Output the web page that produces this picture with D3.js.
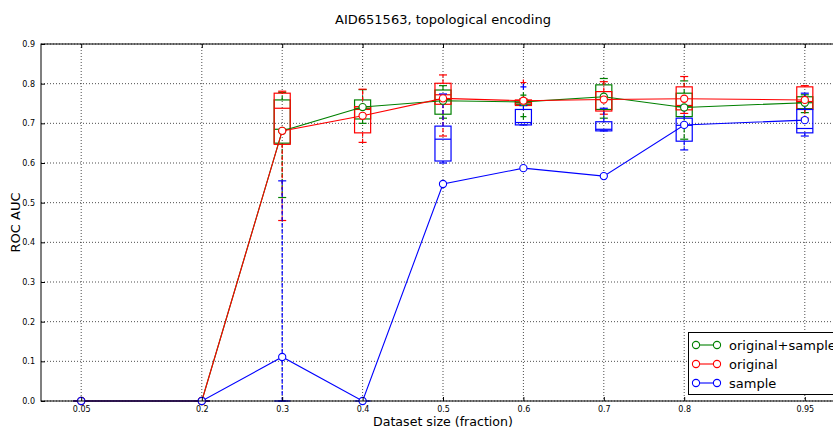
<!DOCTYPE html>
<html>
<head>
<meta charset="utf-8">
<script src="https://cdn.jsdelivr.net/npm/d3@7"></script>
<style>
  body { margin: 0; background: #fff; }
  svg { display: block; font-family: "DejaVu Sans", sans-serif; }
</style>
</head>
<body>
<svg id="chart" width="833" height="428"></svg>
<script>
// Dataset fractions on the x axis
const fractions = [0.05, 0.2, 0.3, 0.4, 0.5, 0.6, 0.7, 0.8, 0.95];
const xTickLabels = ["0.05", "0.2", "0.3", "0.4", "0.5", "0.6", "0.7", "0.8", "0.95"];
const yTicks = [0, 0.1, 0.2, 0.3, 0.4, 0.5, 0.6, 0.7, 0.8, 0.9];

// Mean ROC AUC per fraction
const meanOrigSample = [0, 0, 0.681, 0.741, 0.757, 0.754, 0.767, 0.740, 0.752];
const meanOriginal   = [0, 0, 0.681, 0.719, 0.763, 0.757, 0.760, 0.762, 0.759];
const meanSample     = [0, 0, 0.111, 0, 0.547, 0.587, 0.567, 0.696, 0.708];

// Box statistics per fraction: [low whisker, q1, median, q3, high whisker]
const boxOrigSample = [
  [0, 0, 0, 0, 0], [0, 0, 0, 0, 0],
  [0.513, 0.650, 0.685, 0.759, 0.778],
  [0.700, 0.711, 0.738, 0.759, 0.785],
  [0.713, 0.723, 0.760, 0.784, 0.795],
  [0.745, 0.748, 0.752, 0.757, 0.762],
  [0.713, 0.735, 0.760, 0.797, 0.813],
  [0.660, 0.717, 0.742, 0.776, 0.807],
  [0.727, 0.737, 0.752, 0.767, 0.772]
];
const boxOriginal = [
  [0, 0, 0, 0, 0], [0, 0, 0, 0, 0],
  [0.455, 0.647, 0.738, 0.776, 0.781],
  [0.652, 0.676, 0.735, 0.742, 0.786],
  [0.668, 0.748, 0.772, 0.801, 0.822],
  [0.745, 0.745, 0.752, 0.759, 0.759],
  [0.723, 0.731, 0.760, 0.780, 0.805],
  [0.725, 0.734, 0.745, 0.792, 0.818],
  [0.713, 0.735, 0.755, 0.792, 0.795]
];
const boxSample = [
  [0, 0, 0, 0, 0], [0, 0, 0, 0, 0],
  [0, 0, 0, 0, 0.555],
  [0, 0, 0, 0, 0],
  [0.600, 0.605, 0.660, 0.693, 0.774],
  [0.696, 0.696, 0.702, 0.735, 0.745],
  [0.681, 0.681, 0.685, 0.704, 0.738],
  [0.633, 0.655, 0.695, 0.713, 0.745],
  [0.668, 0.676, 0.687, 0.735, 0.776]
];

// Outlier points (fraction, value)
const fliersOrigSample = [[0.6, 0.771], [0.6, 0.717]];
const fliersOriginal   = [[0.6, 0.803]];
const fliersSample     = [[0.6, 0.792]];

const seriesNames = ["original+sample", "original", "sample"];
const seriesColors = ["#008000", "#ff0000", "#0000ff"];

const series = [
  { name: seriesNames[0], color: seriesColors[0], mean: meanOrigSample, box: boxOrigSample, fliers: fliersOrigSample },
  { name: seriesNames[1], color: seriesColors[1], mean: meanOriginal,   box: boxOriginal,   fliers: fliersOriginal },
  { name: seriesNames[2], color: seriesColors[2], mean: meanSample,     box: boxSample,     fliers: fliersSample }
];

const svg = d3.select("#chart");
const plotLeft = 41, plotTop = 44, plotRight = 845, plotBottom = 401;

const x = d3.scaleLinear().domain([0, 1]).range([plotLeft, plotRight]);
const y = d3.scaleLinear().domain([0, 0.9]).range([plotBottom, plotTop]);

// clip region for plot contents
svg.append("defs").append("clipPath").attr("id", "plotclip")
  .append("rect").attr("x", plotLeft).attr("y", plotTop - 6).attr("width", plotRight - plotLeft).attr("height", plotBottom - plotTop + 12);

// grid
const grid = svg.append("g");
fractions.forEach(f => {
  grid.append("line").attr("x1", x(f)).attr("x2", x(f)).attr("y1", plotTop).attr("y2", plotBottom)
    .attr("stroke", "#000").attr("stroke-width", 0.7).attr("stroke-dasharray", "1,2");
});
yTicks.forEach(v => {
  grid.append("line").attr("x1", plotLeft).attr("x2", plotRight).attr("y1", y(v)).attr("y2", y(v))
    .attr("stroke", "#000").attr("stroke-width", 0.7).attr("stroke-dasharray", "1,2");
});

const plot = svg.append("g").attr("clip-path", "url(#plotclip)");

// box plots
const boxW = x(0.02) - x(0);
const capW = boxW / 2;
series.forEach(s => {
  const g = plot.append("g").attr("stroke", s.color).attr("fill", "none").attr("stroke-width", 1.2);
  s.box.forEach((b, i) => {
    const cx = x(fractions[i]);
    const [lo, q1, med, q3, hi] = b;
    g.append("line").attr("x1", cx).attr("x2", cx).attr("y1", y(q3)).attr("y2", y(hi))
      .attr("stroke-dasharray", "4,2");
    g.append("line").attr("x1", cx).attr("x2", cx).attr("y1", y(q1)).attr("y2", y(lo))
      .attr("stroke-dasharray", "4,2");
    g.append("line").attr("x1", cx - capW / 2).attr("x2", cx + capW / 2).attr("y1", y(hi)).attr("y2", y(hi));
    g.append("line").attr("x1", cx - capW / 2).attr("x2", cx + capW / 2).attr("y1", y(lo)).attr("y2", y(lo));
    g.append("rect").attr("x", cx - boxW / 2).attr("width", boxW)
      .attr("y", y(q3)).attr("height", Math.max(0, y(q1) - y(q3)));
    g.append("line").attr("x1", cx - boxW / 2).attr("x2", cx + boxW / 2).attr("y1", y(med)).attr("y2", y(med));
  });
  s.fliers.forEach(([f, v]) => {
    const cx = x(f), cy = y(v);
    g.append("path").attr("d", `M${cx - 3},${cy}H${cx + 3}M${cx},${cy - 3}V${cy + 3}`);
  });
});

// mean lines with circle markers
const line = d3.line().x((d, i) => x(fractions[i])).y(d => y(d));
series.forEach(s => {
  const g = plot.append("g");
  g.append("path").datum(s.mean).attr("d", line)
    .attr("fill", "none").attr("stroke", s.color).attr("stroke-width", 1.1);
  g.selectAll("circle").data(s.mean).join("circle")
    .attr("cx", (d, i) => x(fractions[i])).attr("cy", d => y(d)).attr("r", 3.6)
    .attr("fill", "#fff").attr("stroke", s.color).attr("stroke-width", 1.1);
});

// axes frame
svg.append("rect").attr("x", plotLeft).attr("y", plotTop).attr("width", plotRight - plotLeft).attr("height", plotBottom - plotTop)
  .attr("fill", "none").attr("stroke", "#000").attr("stroke-width", 1);

// ticks (inward, both sides) and labels
const xAxisB = d3.axisBottom(x).tickValues(fractions).tickFormat((d, i) => xTickLabels[i]).tickSizeInner(-4).tickSizeOuter(0).tickPadding(5);
const xAxisT = d3.axisTop(x).tickValues(fractions).tickFormat("").tickSizeInner(-4).tickSizeOuter(0);
const yAxisL = d3.axisLeft(y).tickValues(yTicks).tickFormat(d3.format(".1f")).tickSizeInner(-4).tickSizeOuter(0).tickPadding(6);
const yAxisR = d3.axisRight(y).tickValues(yTicks).tickFormat("").tickSizeInner(-4).tickSizeOuter(0);

function styleAxis(g) {
  g.select(".domain").remove();
  g.selectAll("text").attr("font-size", 8).attr("fill", "#000").attr("font-family", "DejaVu Sans");
  g.selectAll("line").attr("stroke", "#000");
}
svg.append("g").attr("transform", `translate(0,${plotBottom})`).call(xAxisB).call(styleAxis);
svg.append("g").attr("transform", `translate(0,${plotTop})`).call(xAxisT).call(styleAxis);
svg.append("g").attr("transform", `translate(${plotLeft},0)`).call(yAxisL).call(styleAxis);
svg.append("g").attr("transform", `translate(${plotRight},0)`).call(yAxisR).call(styleAxis);

// title and axis labels
svg.append("text").attr("x", (plotLeft + plotRight) / 2).attr("y", 24).attr("text-anchor", "middle")
  .attr("font-size", 13).text("AID651563, topological encoding");
svg.append("text").attr("x", (plotLeft + plotRight) / 2).attr("y", 426).attr("text-anchor", "middle")
  .attr("font-size", 12.6).text("Dataset size (fraction)");
svg.append("text").attr("transform", `translate(20,${(plotTop + plotBottom) / 2}) rotate(-90)`).attr("text-anchor", "middle")
  .attr("font-size", 13).text("ROC AUC");

// legend
const lg = svg.append("g");
lg.append("rect").attr("x", 688.5).attr("y", 332.5).attr("width", 160).attr("height", 62)
  .attr("fill", "#fff").attr("stroke", "#000").attr("stroke-width", 1);
series.forEach((s, i) => {
  const ly = 345 + i * 19;
  lg.append("line").attr("x1", 696).attr("x2", 717).attr("y1", ly).attr("y2", ly)
    .attr("stroke", s.color).attr("stroke-width", 1.1);
  [696, 717].forEach(cx => lg.append("circle").attr("cx", cx).attr("cy", ly).attr("r", 3.6)
    .attr("fill", "#fff").attr("stroke", s.color).attr("stroke-width", 1.1));
  lg.append("text").attr("x", 729).attr("y", ly + 4.5).attr("font-size", 13).text(s.name);
});
</script>
</body>
</html>
